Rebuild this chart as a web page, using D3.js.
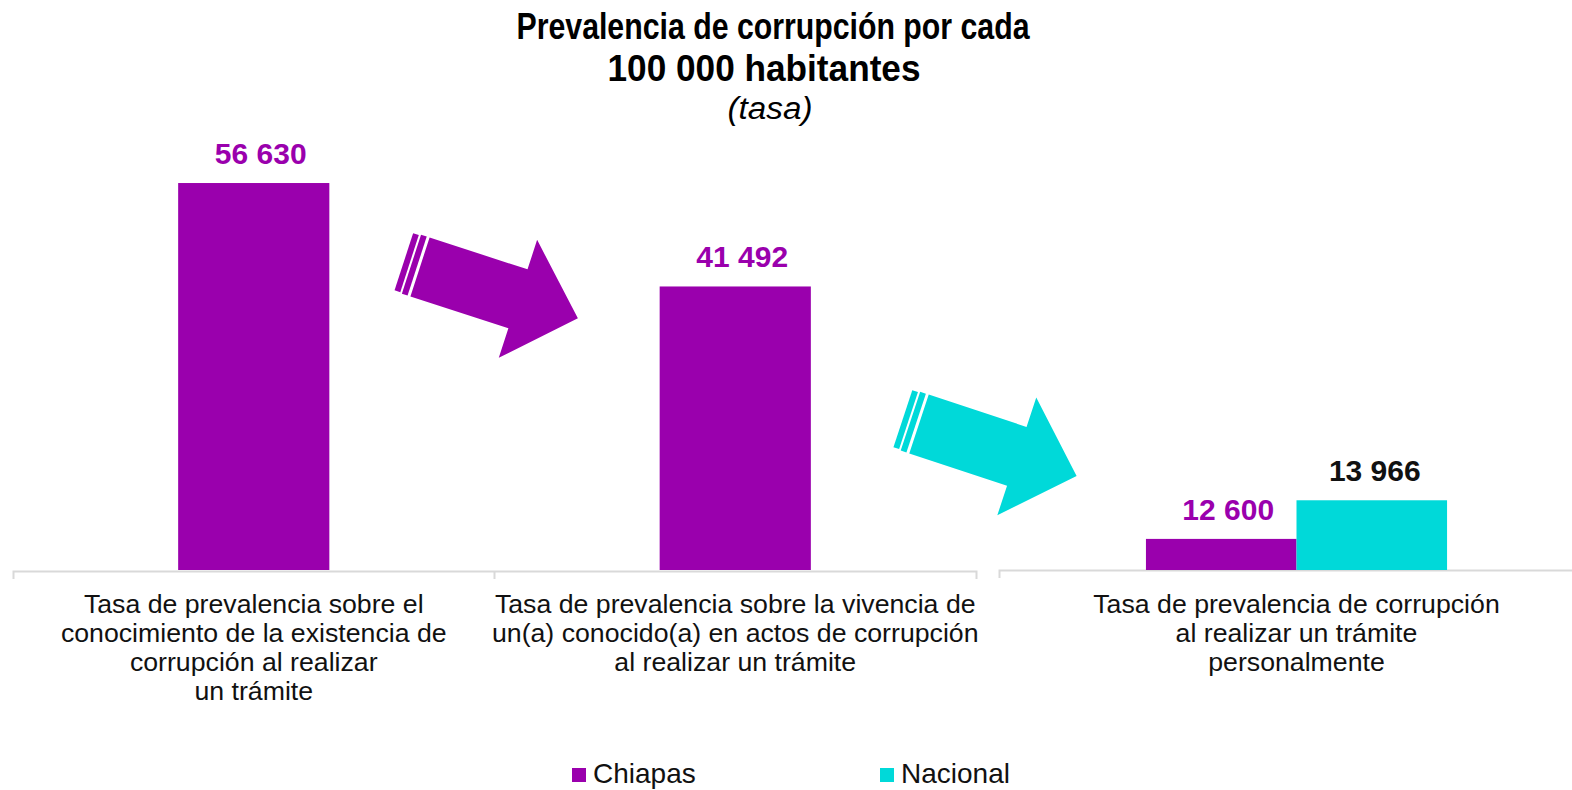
<!DOCTYPE html>
<html>
<head>
<meta charset="utf-8">
<script src="https://cdn.jsdelivr.net/npm/d3@7"></script>
<style>
  body { margin: 0; background: #fff; }
  svg { display: block; font-family: "Liberation Sans", Arial, sans-serif; }
</style>
</head>
<body>
<svg id="chart" width="1572" height="790"></svg>
<script>
'use strict';

// chart data
var categories = [
  'Tasa de prevalencia sobre el\nconocimiento de la existencia de\ncorrupción al realizar\nun trámite',
  'Tasa de prevalencia sobre la vivencia de\nun(a) conocido(a) en actos de corrupción\nal realizar un trámite',
  'Tasa de prevalencia de corrupción\nal realizar un trámite\npersonalmente'
];
var chiapas  = [56630, 41492, 12600];
var nacional = [null, null, 13966];
var seriesNames  = ['Chiapas', 'Nacional'];
var seriesColors = ['#9a00ad', '#00d9d9'];
var labelColors  = ['#9a00ad', '#111111'];
var titleLines = ['Prevalencia de corrupción por cada', '100 000 habitantes'];
var subtitle = '(tasa)';

var fmt = function(v) { return d3.format(',')(v).replace(/,/g, ' '); };

var svg = d3.select('#chart');
var baseY = 570;
var axisColor = '#d9d9d9';

// title
svg.append('text')
  .attr('x', 773).attr('y', 39)
  .attr('text-anchor', 'middle')
  .attr('font-size', 37).attr('font-weight', 'bold')
  .attr('textLength', 513).attr('lengthAdjust', 'spacingAndGlyphs')
  .text(titleLines[0]);

svg.append('text')
  .attr('x', 764).attr('y', 81)
  .attr('text-anchor', 'middle')
  .attr('font-size', 37).attr('font-weight', 'bold')
  .attr('textLength', 313).attr('lengthAdjust', 'spacingAndGlyphs')
  .text(titleLines[1]);

svg.append('text')
  .attr('x', 770).attr('y', 119)
  .attr('text-anchor', 'middle')
  .attr('font-size', 31).attr('font-style', 'italic')
  .attr('textLength', 85).attr('lengthAdjust', 'spacingAndGlyphs')
  .text(subtitle);

// multi line category labels under an axis
function drawLabels(g, scale, cats) {
  cats.forEach(function(c) {
    var t = g.append('text')
      .attr('text-anchor', 'middle')
      .attr('font-size', 26.7)
      .attr('fill', '#111');
    c.split('\n').forEach(function(line, i) {
      t.append('tspan')
        .attr('x', scale(c) + scale.bandwidth() / 2)
        .attr('y', 613 + i * 29)
        .text(line);
    });
  });
}

function styleAxis(g) {
  g.selectAll('.tick text').remove();
  g.select('.domain').attr('stroke', axisColor).attr('stroke-width', 2);
  g.selectAll('.tick line').attr('stroke', axisColor).attr('stroke-width', 2);
}

// panel 1: first two categories, linear from zero
var cats1 = categories.slice(0, 2);
var x1 = d3.scaleBand().domain(cats1).range([13, 976])
  .paddingInner(0.686).paddingOuter(0.343);
var y1 = d3.scaleLinear().domain([0, 60000]).range([baseY, 160]);

var g1 = svg.append('g');
var ax1 = g1.append('g')
  .attr('transform', 'translate(0,' + (baseY + 1) + ')')
  .call(d3.axisBottom(x1).tickSizeInner(0).tickSizeOuter(8));
styleAxis(ax1);

// separator tick between the two categories
var sep = x1(cats1[1]) - x1.step() * x1.paddingInner() / 2;
ax1.append('line')
  .attr('x1', sep).attr('x2', sep)
  .attr('y1', 0).attr('y2', 8)
  .attr('stroke', axisColor).attr('stroke-width', 2);

g1.selectAll('rect.bar')
  .data(cats1)
  .enter().append('rect')
  .attr('class', 'bar')
  .attr('x', function(d) { return x1(d); })
  .attr('width', x1.bandwidth())
  .attr('y', function(d, i) { return y1(chiapas[i]); })
  .attr('height', function(d, i) { return baseY - y1(chiapas[i]); })
  .attr('fill', seriesColors[0]);

g1.selectAll('text.value')
  .data(cats1)
  .enter().append('text')
  .attr('class', 'value')
  .attr('x', function(d) { return x1(d) + x1.bandwidth() / 2 + 7; })
  .attr('y', function(d, i) { return y1(chiapas[i]) - 19; })
  .attr('text-anchor', 'middle')
  .attr('font-size', 30).attr('font-weight', 'bold')
  .attr('fill', labelColors[0])
  .text(function(d, i) { return fmt(chiapas[i]); });

drawLabels(g1, x1, cats1);

// panel 3: grouped bars, axis does not start at zero
var cats3 = categories.slice(2);
var x3 = d3.scaleBand().domain(cats3).range([999, 1594])
  .paddingInner(0).paddingOuter(0.488);
var xs = d3.scaleBand().domain(seriesNames).range([0, x3.bandwidth()]);
var y3 = d3.scaleLinear().domain([11500, 26000]).range([baseY, 160]);

var g3 = svg.append('g');
var ax3 = g3.append('g')
  .attr('transform', 'translate(0,' + baseY + ')')
  .call(d3.axisBottom(x3).tickSizeInner(0).tickSizeOuter(8));
styleAxis(ax3);

var groupData = [];
cats3.forEach(function(c) {
  var idx = categories.indexOf(c);
  [chiapas[idx], nacional[idx]].forEach(function(v, s) {
    groupData.push({ cat: c, series: seriesNames[s], s: s, value: v });
  });
});

g3.selectAll('rect.bar')
  .data(groupData)
  .enter().append('rect')
  .attr('class', 'bar')
  .attr('x', function(d) { return x3(d.cat) + xs(d.series); })
  .attr('width', xs.bandwidth())
  .attr('y', function(d) { return y3(d.value); })
  .attr('height', function(d) { return baseY - y3(d.value); })
  .attr('fill', function(d) { return seriesColors[d.s]; });

g3.selectAll('text.value')
  .data(groupData)
  .enter().append('text')
  .attr('class', 'value')
  .attr('x', function(d) { return x3(d.cat) + xs(d.series) + xs.bandwidth() / 2 + (d.s ? 3 : 7); })
  .attr('y', function(d) { return y3(d.value) - 19; })
  .attr('text-anchor', 'middle')
  .attr('font-size', 30).attr('font-weight', 'bold')
  .attr('fill', function(d) { return labelColors[d.s]; })
  .text(function(d) { return fmt(d.value); });

drawLabels(g3, x3, cats3);

// decorative block arrows between the panels
var arrowBody = [[0, -31], [103, -31], [103, -62], [166, 0], [103, 62], [103, 31], [0, 31]];
var stripes = [
  [[-17, -30], [-11, -30], [-11, 30], [-17, 30]],
  [[-9, -31], [-3, -31], [-3, 31], [-9, 31]]
];
var arrows = [
  { x: 420, y: 267, angle: 18, color: seriesColors[0] },
  { x: 919, y: 424, angle: 18.3, color: seriesColors[1] }
];
var line = d3.line();

arrows.forEach(function(a) {
  var g = svg.append('g')
    .attr('transform', 'translate(' + a.x + ',' + a.y + ') rotate(' + a.angle + ')')
    .attr('fill', a.color);
  g.append('path').attr('d', line(arrowBody) + 'Z');
  stripes.forEach(function(s) {
    g.append('path').attr('d', line(s) + 'Z');
  });
});

// legend
var legend = svg.append('g')
  .selectAll('g')
  .data(seriesNames)
  .enter().append('g')
  .attr('transform', function(d, i) { return 'translate(' + [572, 880][i] + ',768)'; });

legend.append('rect')
  .attr('width', 14).attr('height', 14)
  .attr('fill', function(d, i) { return seriesColors[i]; });

legend.append('text')
  .attr('x', 21).attr('y', 15)
  .attr('font-size', 28)
  .attr('fill', '#111')
  .text(function(d) { return d; });
</script>
</body>
</html>
